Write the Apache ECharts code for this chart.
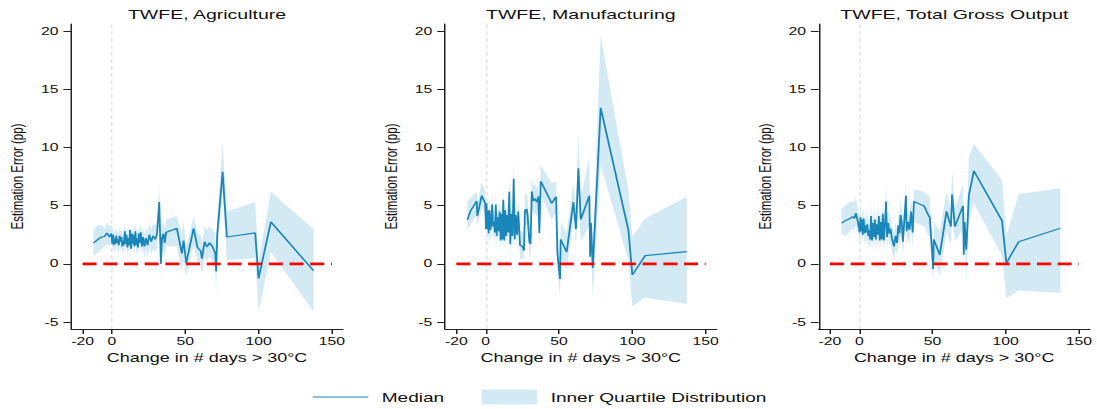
<!DOCTYPE html>
<html>
<head>
<meta charset="utf-8">
<script src="https://cdn.jsdelivr.net/npm/echarts@6/dist/echarts.min.js"></script>
<style>
  html, body { margin: 0; padding: 0; background: #ffffff; overflow: hidden; }
  #wrap { width: 1097px; height: 409px; overflow: hidden; }
  /* the figure is laid out narrow and widened horizontally */
  #chart { width: 731.33px; height: 409px; transform: scaleX(1.5); transform-origin: 0 0; }
</style>
</head>
<body>
<div id="wrap"><div id="chart"></div></div>
<script>
// ---- Agriculture ----
const agriX = [-12.5, -9, -6.8, -5, -3.4, -1.6, -0.3, 0.3, 0.8, 1.3, 1.8, 2.4, 3, 3.5, 4.1, 4.7, 5.3, 5.9, 6.5, 7.1, 7.6, 8.2, 8.8, 9.4, 10, 10.6, 11.2, 11.8, 12.4, 13, 13.6, 14.2, 14.8, 15.4, 16, 16.6, 17.2, 17.8, 18.4, 19, 19.7, 20.5, 21.3, 22.2, 23.2, 24.3, 25.5, 26.8, 28.1, 29.5, 30.8, 32.3, 33.4, 34.2, 35.2, 36, 37, 44.3, 47.7, 48.9, 50.7, 55.7, 58.4, 60.6, 61.4, 63.2, 64.8, 66.6, 68.5, 70.5, 71.1, 71.8, 75.5, 78.4, 97.7, 100, 108.4, 137.5];
const agriMedian = [1.8, 2.15, 2.3, 2.35, 2.65, 2.3, 2.6, 1.7, 2.5, 1.6, 2.2, 1.7, 2.4, 1.8, 2.1, 1.6, 2.4, 1.9, 2.3, 1.5, 2.0, 1.6, 2.8, 1.7, 2.5, 1.4, 2.2, 1.6, 2.9, 1.3, 2.6, 1.7, 2.5, 1.5, 2.8, 1.6, 2.2, 1.4, 2.6, 1.8, 2.7, 1.5, 2.3, 1.5, 2.2, 1.6, 2.5, 1.9, 2.4, 2.1, 2.6, 5.3, 0.0, 2.2, 2.6, 1.8, 2.7, 3.05, 0.9, 2.0, 0.05, 3.05, 1.4, 1.1, 0.45, 1.9, 1.45, 1.8, 1.5, 0.9, -0.65, 2.5, 7.9, 2.3, 2.65, -1.25, 3.6, -0.6];
const agriHigh = [3.0, 3.35, 3.3, 3.0, 3.5, 3.2, 3.4, 2.6, 3.3, 2.5, 3.0, 2.6, 3.2, 2.7, 2.9, 2.5, 3.2, 2.8, 3.1, 2.4, 2.9, 2.5, 3.6, 2.6, 3.3, 2.3, 3.1, 2.5, 3.7, 2.2, 3.4, 2.6, 3.3, 2.4, 3.6, 2.5, 3.1, 2.3, 3.5, 2.7, 3.6, 2.4, 3.2, 2.5, 3.2, 2.6, 3.5, 3.0, 3.5, 3.3, 3.7, 6.7, 1.4, 3.3, 3.6, 3.0, 3.8, 4.1, 2.6, 3.6, 1.5, 4.1, 2.7, 2.5, 1.8, 3.3, 2.9, 3.2, 3.0, 2.5, 0.9, 3.9, 10.4, 4.5, 5.3, 0.2, 6.2, 3.0];
const agriLow = [0.65, 1.0, 1.3, 1.5, 1.7, 1.5, 1.8, 1.0, 1.7, 0.9, 1.4, 0.9, 1.6, 1.0, 1.3, 0.8, 1.6, 1.1, 1.5, 0.8, 1.2, 0.8, 1.9, 0.9, 1.7, 0.6, 1.4, 0.8, 2.0, 0.5, 1.8, 0.9, 1.6, 0.7, 1.9, 0.8, 1.3, 0.6, 1.7, 1.0, 1.8, 0.6, 1.4, 0.5, 1.2, 0.5, 1.4, 0.8, 1.3, 1.0, 1.4, 3.9, -1.1, 0.8, 1.4, 0.6, 1.5, 1.5, -0.6, 0.3, -1.1, 1.6, 0.2, -0.2, -0.9, 0.6, 0.2, 0.6, 0.3, -0.5, -2.5, 1.0, 6.1, 0.3, 0.5, -4.1, 1.0, -4.1];

// ---- Manufacturing ----
const manuX = [-12.5, -10.2, -6.1, -5.7, -2.7, -0.3, 0.2, 0.6, 1.0, 1.5, 2.0, 2.6, 3.2, 3.8, 4.4, 5.0, 5.7, 6.3, 6.9, 7.5, 8.2, 8.8, 9.5, 10.2, 10.8, 11.4, 12.0, 12.7, 13.3, 14.0, 14.7, 15.4, 16.1, 16.8, 17.5, 18.3, 19.1, 19.8, 20.6, 21.4, 22.2, 23.4, 25.0, 26.1, 26.8, 28.0, 28.6, 29.8, 30.6, 31.4, 32.5, 33.6, 34.8, 35.9, 36.6, 37.5, 45.0, 48.0, 48.9, 50.7, 51.1, 55.2, 59.8, 61.6, 63.2, 64.8, 70.7, 71.2, 71.8, 73.0, 78.4, 97.3, 100, 108.7, 137.1];
const manuMedian = [3.77, 4.57, 5.4, 4.1, 5.85, 5.2, 3.0, 5.2, 3.0, 4.6, 2.6, 4.6, 2.9, 3.4, 5.1, 3.2, 3.6, 2.7, 5.1, 2.4, 4.0, 2.8, 4.5, 2.0, 4.3, 2.1, 5.5, 2.0, 4.6, 2.4, 4.2, 2.7, 6.2, 1.7, 4.3, 2.4, 7.3, 2.1, 4.2, 2.5, 4.5, 1.6, 1.5, 1.14, 4.6, 4.7, 4.1, 1.9, 1.7, 6.2, 5.4, 5.6, 5.3, 5.8, 2.65, 7.1, 5.2, 5.75, 0.9, -1.3, 2.1, 1.0, 5.3, 3.0, 8.2, 3.8, 5.85, 0.6, 3.5, -0.35, 13.4, 2.9, -0.95, 0.7, 1.05];
const manuHigh = [5.3, 5.7, 6.2, 5.2, 7.0, 6.3, 4.2, 6.3, 4.1, 5.7, 3.7, 5.8, 4.0, 4.6, 6.3, 4.3, 4.8, 3.8, 6.3, 3.6, 5.2, 4.0, 5.7, 3.3, 5.5, 3.3, 6.8, 3.2, 5.8, 3.6, 5.4, 3.9, 7.5, 3.0, 5.6, 3.6, 8.9, 3.4, 5.5, 3.7, 5.8, 2.9, 2.8, 2.5, 6.0, 6.1, 5.4, 3.3, 3.1, 7.4, 6.7, 6.9, 6.5, 7.0, 4.0, 8.5, 6.9, 7.1, 2.3, 0.3, 3.6, 2.7, 6.9, 4.6, 11.3, 5.6, 9.2, 2.4, 5.0, 1.6, 19.6, 6.3, 2.3, 3.9, 5.75];
const manuLow = [2.9, 3.4, 4.2, 3.3, 4.9, 4.2, 2.0, 4.1, 2.0, 3.5, 1.6, 3.5, 1.9, 2.3, 4.0, 2.1, 2.5, 1.6, 4.0, 1.3, 2.9, 1.7, 3.4, 0.9, 3.1, 1.0, 4.3, 0.9, 3.4, 1.2, 3.0, 1.5, 5.0, 0.6, 3.1, 1.2, 5.9, 0.9, 3.0, 1.3, 3.2, 0.4, 0.5, 0.3, 3.3, 3.4, 2.9, 0.8, 0.6, 4.9, 4.2, 4.4, 4.0, 4.5, 1.3, 5.9, 3.8, 4.4, -0.6, -2.8, 0.5, -0.5, 3.7, 1.5, 6.0, 1.9, 3.3, -1.2, 1.8, -2.9, 8.5, 0.3, -3.65, -2.9, -3.45];

// ---- Total Gross Output ----
const totalX = [-12, -9, -5.9, -4.5, -3.3, -2.3, -0.7, 0.3, 0.8, 1.3, 1.8, 2.4, 3.0, 3.6, 4.2, 4.8, 5.5, 6.1, 6.8, 7.4, 8.1, 8.7, 9.4, 10.0, 10.7, 11.3, 12.0, 12.7, 13.4, 14.0, 14.7, 15.4, 16.1, 16.8, 17.5, 18.3, 19.0, 19.8, 20.6, 21.4, 22.3, 23.7, 24.8, 25.8, 26.7, 27.5, 28.2, 29.0, 29.8, 30.6, 31.9, 32.3, 33.3, 34.3, 35.4, 36.5, 37.3, 44.3, 47.5, 48.2, 50.5, 50.9, 55.0, 59.6, 62.6, 63.4, 65.3, 70.9, 71.4, 72.0, 73.1, 74.9, 78.3, 97.5, 100.5, 108.9, 137.4];
const totalMedian = [3.5, 3.75, 3.92, 4.06, 3.9, 4.35, 3.5, 2.7, 4.0, 2.8, 3.8, 2.5, 3.9, 2.6, 3.3, 2.7, 3.4, 2.4, 2.9, 2.1, 4.1, 2.0, 3.5, 2.3, 3.8, 2.1, 3.4, 2.5, 4.1, 2.0, 3.6, 2.1, 4.3, 2.0, 3.2, 5.35, 2.3, 3.5, 2.6, 3.0, 2.2, 1.5, 2.4, 1.8, 3.3, 2.6, 4.2, 3.6, 1.9, 3.4, 5.85, 2.8, 3.6, 2.9, 4.5, 2.7, 5.35, 4.97, 4.1, 4.0, -0.45, 2.1, 0.77, 4.5, 3.2, 5.97, 3.2, 4.97, 0.77, 3.6, 1.2, 5.9, 7.98, 3.7, 0.06, 1.9, 3.06];
const totalHigh = [4.7, 5.1, 5.3, 5.4, 5.2, 5.8, 4.6, 3.9, 5.2, 3.9, 5.0, 3.6, 5.1, 3.7, 4.4, 3.8, 4.5, 3.5, 4.0, 3.2, 5.3, 3.1, 4.7, 3.4, 5.0, 3.2, 4.6, 3.6, 5.3, 3.2, 4.8, 3.3, 5.6, 3.2, 4.4, 6.8, 3.5, 4.8, 3.8, 4.2, 3.4, 2.7, 3.6, 3.0, 4.6, 3.9, 5.5, 4.9, 3.2, 4.7, 7.0, 4.1, 4.8, 4.1, 5.8, 4.0, 6.4, 6.2, 5.9, 5.6, 1.2, 3.6, 2.8, 6.2, 4.6, 8.1, 4.8, 6.8, 2.6, 5.0, 2.8, 9.2, 10.3, 7.2, 2.4, 6.0, 6.5];
const totalLow = [2.5, 2.4, 2.9, 3.0, 2.9, 3.3, 2.5, 1.7, 2.9, 1.8, 2.7, 1.5, 2.8, 1.6, 2.2, 1.7, 2.3, 1.4, 1.8, 1.1, 3.0, 1.0, 2.4, 1.2, 2.7, 1.0, 2.3, 1.4, 3.0, 0.9, 2.5, 1.0, 3.1, 0.9, 2.0, 4.1, 1.1, 2.3, 1.4, 1.8, 1.0, 0.4, 1.2, 0.6, 2.0, 1.3, 2.9, 2.3, 0.7, 2.1, 4.5, 1.5, 2.3, 1.6, 3.2, 1.4, 3.6, 3.2, 2.4, 2.3, -1.7, 0.5, -1.1, 2.8, 1.6, 4.0, 1.9, 3.0, -1.2, 1.8, -1.4, 3.6, 5.2, 0.7, -2.95, -2.3, -2.5];

// ---- axes, titles, reference lines ----
const panelTitles = ['TWFE, Agriculture', 'TWFE, Manufacturing', 'TWFE, Total Gross Output'];
const xTicks = [-20, 0, 50, 100, 150];
const yTicks = [-5, 0, 5, 10, 15, 20];
const zeroLineX = [-20, 150];
const xTitle = 'Change in # days > 30°C';
const yTitle = 'Estimation Error (pp)';
const medianName = 'Median';
const bandName = 'Inner Quartile Distribution';

const panels = [
  { x: agriX, med: agriMedian, lo: agriLow, hi: agriHigh },
  { x: manuX, med: manuMedian, lo: manuLow, hi: manuHigh },
  { x: totalX, med: totalMedian, lo: totalLow, hi: totalHigh }
];

const FONT = 'Liberation Sans';
const LINE_COLOR = '#1a86b9';
const BAND_COLOR = '#d3e9f3';
const INK = '#111111';
const gridLefts = [47.5, 296.7, 545.8];
const gridWidth = 181;

const grid = [], xAxis = [], yAxis = [], title = [], series = [];

panels.forEach((p, i) => {
  grid.push({ left: gridLefts[i], width: gridWidth, top: 24, height: 305 });
  title.push({
    text: panelTitles[i],
    left: gridLefts[i] + gridWidth / 2,
    top: 8.5,
    textAlign: 'center',
    padding: 0,
    textStyle: { fontFamily: FONT, fontSize: 13, fontWeight: 'normal', color: INK }
  });
  xAxis.push({
    type: 'value', gridIndex: i, min: -27.7, max: 157.4,
    name: xTitle, nameLocation: 'middle', nameGap: 19,
    nameTextStyle: { fontFamily: FONT, fontSize: 12, color: INK },
    axisLine: { onZero: false, lineStyle: { color: '#222', width: 1 } },
    axisTick: { customValues: xTicks, length: 5, lineStyle: { color: '#222' } },
    axisLabel: { customValues: xTicks, margin: 6.5, fontFamily: FONT, fontSize: 10.5, color: INK },
    splitLine: { show: false }
  });
  yAxis.push({
    type: 'value', gridIndex: i, min: -5.6, max: 20.6,
    name: yTitle, nameLocation: 'middle', nameGap: 30,
    nameTextStyle: { fontFamily: FONT, fontSize: 11.5, color: INK },
    axisLine: { onZero: false, lineStyle: { color: '#222', width: 1 } },
    axisTick: { customValues: yTicks, length: 5.2, lineStyle: { color: '#222' } },
    axisLabel: { customValues: yTicks, margin: 8.5, fontFamily: FONT, fontSize: 10.5, color: INK },
    splitLine: { show: false }
  });

  // interquartile band as one filled polygon: upper edge then lower edge reversed
  series.push({
    type: 'custom', name: bandName, xAxisIndex: i, yAxisIndex: i, z: 2, silent: true,
    itemStyle: { color: BAND_COLOR },
    data: p.x.map((v, k) => [v, p.lo[k], p.hi[k]]),
    encode: { x: 0, y: [1, 2] },
    renderItem: (params, api) => {
      if (params.dataIndex !== 0) return null;
      const upper = p.x.map((v, k) => api.coord([v, p.hi[k]]));
      const lower = p.x.map((v, k) => api.coord([v, p.lo[k]])).reverse();
      return { type: 'polygon', shape: { points: upper.concat(lower) }, style: { fill: BAND_COLOR } };
    }
  });

  // median line, with the faint dashed marker at zero change drawn underneath everything
  series.push({
    type: 'line', name: medianName, xAxisIndex: i, yAxisIndex: i, z: 3,
    symbol: 'none', showSymbol: false,
    lineStyle: { color: LINE_COLOR, width: 1.2 },
    itemStyle: { color: LINE_COLOR },
    data: p.x.map((v, k) => [v, p.med[k]]),
    markLine: {
      silent: true, symbol: ['none', 'none'], animation: false, z: 1,
      label: { show: false },
      lineStyle: { color: '#e4e4e4', type: [4, 3], width: 1 },
      data: [{ xAxis: 0 }]
    }
  });

  // zero-error reference line
  series.push({
    type: 'line', name: 'zero', xAxisIndex: i, yAxisIndex: i, z: 6, silent: true,
    symbol: 'none', showSymbol: false,
    lineStyle: { color: '#ff0000', width: 2.7, type: [9.3, 4.5] },
    data: zeroLineX.map(v => [v, 0])
  });
});

const chart = echarts.init(document.getElementById('chart'), null, { renderer: 'svg' });
chart.setOption({
  animation: false,
  backgroundColor: '#ffffff',
  textStyle: { fontFamily: FONT },
  title, grid, xAxis, yAxis, series,
  legend: {
    left: 208, top: 389.5, padding: 0,
    itemWidth: 37, itemHeight: 15, itemGap: 25,
    data: [
      { name: medianName, itemStyle: { color: 'rgba(0,0,0,0)', borderWidth: 0, opacity: 0 }, lineStyle: { color: LINE_COLOR, width: 1 } },
      { name: bandName, icon: 'rect', itemStyle: { color: BAND_COLOR } }
    ],
    formatter: n => '{t|' + n + '}',
    textStyle: {
      fontFamily: FONT, fontSize: 12.7, color: INK,
      rich: { t: { fontFamily: FONT, fontSize: 12.7, color: INK, padding: [0, 0, 0, 4] } }
    }
  }
});
</script>
</body>
</html>
